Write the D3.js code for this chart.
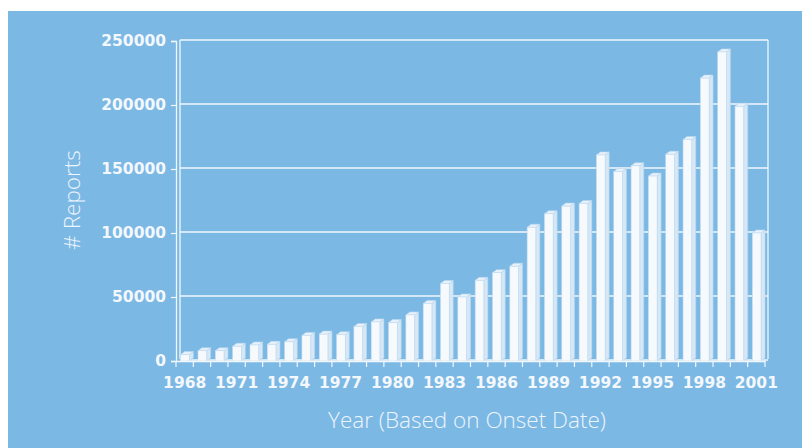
<!DOCTYPE html>
<html>
<head>
<meta charset="utf-8">
<script src="https://cdn.jsdelivr.net/npm/d3@7"></script>
<style>
  body { margin: 0; background: #fff; }
</style>
</head>
<body>
<div id="chart"></div>
<script>
// data
const years = d3.range(1968, 2002);
const reports = [
  5000, 8000, 8000, 11500, 12500, 13000, 15000, 20000, 21000, 20500,
  27000, 30500, 30000, 36000, 45000, 60500, 50000, 63000, 69000, 74000,
  104500, 115000, 121000, 123000, 161000, 148000, 152500, 144500, 161500, 173000,
  221000, 241500, 199000, 100000
];
const yTicks = [0, 50000, 100000, 150000, 200000, 250000];
const xLabelYears = d3.range(1968, 2002, 3);

const width = 802;
const height = 448;
const plot = { left: 176, right: 765, top: 41, bottom: 361 };
const depth = { dx: 4, dy: 3 };

const svg = d3.select("#chart")
  .append("svg")
  .attr("width", width)
  .attr("height", height);

// blue panel
svg.append("rect")
  .attr("x", 8).attr("y", 11)
  .attr("width", width - 8).attr("height", height - 11)
  .attr("fill", "#7bb8e4");

const x = d3.scaleBand()
  .domain(years)
  .range([plot.left, plot.right]);

const y = d3.scaleLinear()
  .domain([0, 250000])
  .range([plot.bottom, plot.top]);

const line = "#f2f7fc";

// back wall with gridlines
const wall = svg.append("g");
wall.selectAll("line.grid")
  .data(yTicks)
  .join("line")
    .attr("x1", plot.left + depth.dx)
    .attr("x2", plot.right + 3)
    .attr("y1", d => y(d) - 1)
    .attr("y2", d => y(d) - 1)
    .attr("stroke", line)
    .attr("stroke-width", 1.3);
wall.append("line")
  .attr("x1", plot.left + depth.dx).attr("x2", plot.left + depth.dx)
  .attr("y1", y(250000) - 1).attr("y2", plot.bottom - 2)
  .attr("stroke", line).attr("stroke-width", 1.3);
wall.append("line")
  .attr("x1", plot.right + 3).attr("x2", plot.right + 3)
  .attr("y1", y(250000) - 1).attr("y2", plot.bottom - 2)
  .attr("stroke", line).attr("stroke-width", 1.3);

// 3D bars
const bw = x.bandwidth() * 0.5;
const off = x.bandwidth() * 0.27;
const bars = svg.append("g")
  .selectAll("g")
  .data(years.map((yr, i) => ({ year: yr, value: reports[i] })))
  .join("g");

bars.append("path") // side face
  .attr("d", d => {
    const x0 = x(d.year) + off + bw, yt = y(d.value), yb = y(0);
    return `M${x0},${yt}L${x0 + depth.dx},${yt - depth.dy}L${x0 + depth.dx},${yb - depth.dy}L${x0},${yb}Z`;
  })
  .attr("fill", "#d6e7f6")
  .attr("stroke", "#b9d6ef")
  .attr("stroke-width", 0.6);

bars.append("path") // top face
  .attr("d", d => {
    const x0 = x(d.year) + off, yt = y(d.value);
    return `M${x0},${yt}L${x0 + depth.dx},${yt - depth.dy}L${x0 + bw + depth.dx},${yt - depth.dy}L${x0 + bw},${yt}Z`;
  })
  .attr("fill", "#e9f2fb")
  .attr("stroke", "#b9d6ef")
  .attr("stroke-width", 0.6);

bars.append("rect") // front face
  .attr("x", d => x(d.year) + off)
  .attr("y", d => y(d.value))
  .attr("width", bw)
  .attr("height", d => y(0) - y(d.value))
  .attr("fill", "#f7fafd")
  .attr("stroke", "#c4dcf1")
  .attr("stroke-width", 0.6);

// y axis
const yAxis = svg.append("g")
  .attr("transform", `translate(${plot.left},0)`)
  .call(d3.axisLeft(y).tickValues(yTicks).tickFormat(d3.format("d")).tickSizeOuter(0).tickSize(5).tickPadding(5));

// x axis
const xAxis = svg.append("g")
  .attr("transform", `translate(0,${plot.bottom})`)
  .call(d3.axisBottom(x).tickValues(xLabelYears).tickSize(0).tickSizeOuter(0).tickPadding(16));

// x ticks at band boundaries
svg.append("g")
  .selectAll("line")
  .data(years.concat([2002]))
  .join("line")
    .attr("x1", d => d === 2002 ? plot.right : x(d))
    .attr("x2", d => d === 2002 ? plot.right : x(d))
    .attr("y1", plot.bottom)
    .attr("y2", plot.bottom + 6)
    .attr("stroke", line)
    .attr("stroke-width", 1.2);

[yAxis, xAxis].forEach(g => {
  g.select(".domain").attr("stroke", line).attr("stroke-width", 1.3);
  g.selectAll(".tick line").attr("stroke", line).attr("stroke-width", 1.2);
  g.selectAll("text")
    .attr("fill", "#f4f8fc")
    .attr("font-family", "DejaVu Sans, sans-serif")
    .attr("font-weight", "bold")
    .attr("font-size", 15.5);
});

// axis titles
svg.append("text")
  .attr("x", 467)
  .attr("y", 428)
  .attr("text-anchor", "middle")
  .attr("fill", "#eef5fc")
  .attr("font-family", "Open Sans, Lato, sans-serif")
  .attr("font-weight", 300)
  .attr("font-size", 22.5)
  .text("Year (Based on Onset Date)");

svg.append("text")
  .attr("transform", "translate(80,200) rotate(-90)")
  .attr("text-anchor", "middle")
  .attr("fill", "#eef5fc")
  .attr("font-family", "Open Sans, Lato, sans-serif")
  .attr("font-weight", 300)
  .attr("font-size", 22.5)
  .text("# Reports");
</script>
</body>
</html>
